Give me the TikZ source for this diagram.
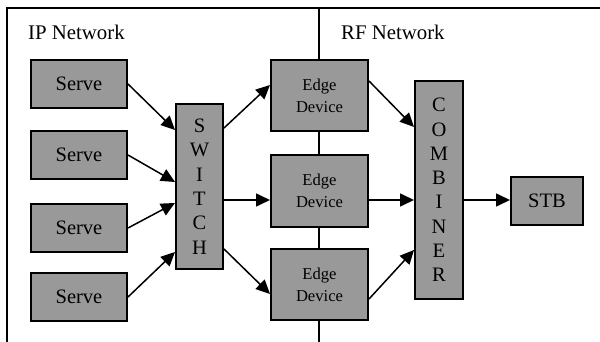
\documentclass[tikz,border=0pt]{standalone}
\usepackage{fontspec}
\setmainfont{Liberation Serif}
\usetikzlibrary{arrows.meta,calc}
\definecolor{boxgray}{RGB}{153,153,153}
\begin{document}
\begin{tikzpicture}[x=1pt,y=-1pt,
  box/.style={draw, fill=boxgray, line width=2pt, inner sep=0pt, align=center,
    font=\fontsize{20.5}{24.3}\selectfont},
  servebox/.style={box, minimum width=96pt, minimum height=48pt},
  edgebox/.style={box, minimum width=97pt, minimum height=71pt,
    font=\fontsize{16.6}{22}\selectfont},
  flow/.style={line width=1.5pt, -{Triangle[length=14pt,width=13pt]}},
  frameline/.style={line width=2pt},
  zone/.style={anchor=west, inner sep=0pt, font=\fontsize{20.8}{24}\selectfont}]
\useasboundingbox (0,0) rectangle (600,342);

% frame of the two network zones
\draw[frameline] (7,342) -- (7,8) -- (600,8);
\draw[frameline] (319,8) -- (319,342);
\node[zone] (ip) at (28,32) {IP Network};
\node[zone] (rf) at (341,32) {RF Network};

% servers
\node[servebox] (s1) at (79,84) {Serve};
\node[servebox] (s2) at (79,155) {Serve};
\node[servebox] (s3) at (79,228) {Serve};
\node[servebox] (s4) at (79,297) {Serve};

% switch
\node[box, minimum width=47pt, minimum height=165pt] (sw) at (199.5,186.5)
  {S\\W\\I\\T\\C\\H};

% edge devices
\node[edgebox] (e1) at (319.5,95.5) {Edge\\Device};
\node[edgebox] (e2) at (319.5,191) {Edge\\Device};
\node[edgebox] (e3) at (319.5,284.5) {Edge\\Device};

% combiner and set-top box
\node[box, minimum width=48pt, minimum height=218pt] (cb) at (439,190)
  {C\\O\\M\\B\\I\\N\\E\\R};
\node[box, minimum width=72pt, minimum height=48pt] (stb) at (547,201) {STB};

% servers to switch
\draw[flow] (s1.east) -- (sw.west |- 0,130);
\draw[flow] (s2.east) -- (sw.west |- 0,182);
\draw[flow] (s3.east) -- (sw.west |- 0,203);
\draw[flow] (s4.east) -- (sw.west |- 0,252);

% switch to edge devices
\draw[flow] (sw.east |- 0,128) -- (e1.west |- 0,85);
\draw[flow] (sw.east |- 0,200) -- (e2.west |- 0,200);
\draw[flow] (sw.east |- 0,249) -- (e3.west |- 0,294);

% edge devices to combiner
\draw[flow] (e1.east |- 0,81) -- (cb.west |- 0,127);
\draw[flow] (e2.east |- 0,200) -- (cb.west |- 0,200);
\draw[flow] (e3.east |- 0,299) -- (cb.west |- 0,250);

% combiner to set-top box
\draw[flow] (cb.east |- 0,200) -- (stb.west |- 0,200);
\end{tikzpicture}
\end{document}
